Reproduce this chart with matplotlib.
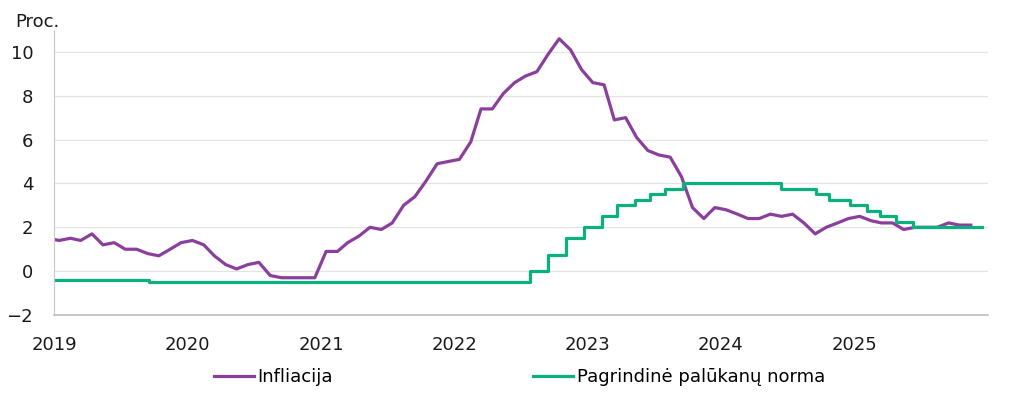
import matplotlib
matplotlib.use('Agg')
import matplotlib.pyplot as plt
import pandas as pd

# monthly HICP inflation, Dec 2018 .. Nov 2025 (plotted at mid-month)
infl_start = '2018-12'
inflation = [
    1.5,
    1.4, 1.5, 1.4, 1.7, 1.2, 1.3, 1.0, 1.0, 0.8, 0.7, 1.0, 1.3,
    1.4, 1.2, 0.7, 0.3, 0.1, 0.3, 0.4, -0.2, -0.3, -0.3, -0.3, -0.3,
    0.9, 0.9, 1.3, 1.6, 2.0, 1.9, 2.2, 3.0, 3.4, 4.1, 4.9, 5.0,
    5.1, 5.9, 7.4, 7.4, 8.1, 8.6, 8.9, 9.1, 9.9, 10.6, 10.1, 9.2,
    8.6, 8.5, 6.9, 7.0, 6.1, 5.5, 5.3, 5.2, 4.3, 2.9, 2.4, 2.9,
    2.8, 2.6, 2.4, 2.4, 2.6, 2.5, 2.6, 2.2, 1.7, 2.0, 2.2, 2.4,
    2.5, 2.3, 2.2, 2.2, 1.9, 2.0, 2.0, 2.0, 2.2, 2.1, 2.1,
]

# policy rate change dates and new levels
rate_dates = ['2019-01-01', '2019-09-18', '2022-07-27', '2022-09-14', '2022-11-02',
              '2022-12-21', '2023-02-08', '2023-03-22', '2023-05-10', '2023-06-21',
              '2023-08-02', '2023-09-20', '2024-06-12', '2024-09-18', '2024-10-23',
              '2024-12-18', '2025-02-05', '2025-03-12', '2025-04-23', '2025-06-11',
              '2025-12-15']
rate_values = [-0.40, -0.50, 0.00, 0.75, 1.50, 2.00, 2.50, 3.00, 3.25, 3.50,
               3.75, 4.00, 3.75, 3.50, 3.25, 3.00, 2.75, 2.50, 2.25, 2.00, 2.00]

year_ticks = ['2019', '2020', '2021', '2022', '2023', '2024', '2025']
y_ticks = [-2, 0, 2, 4, 6, 8, 10]

purple = '#8B3F9D'
green = '#0BB07F'
plt.rcParams['font.family'] = ['DejaVu Sans']

infl_x = pd.period_range(infl_start, periods=len(inflation), freq='M').to_timestamp() + pd.Timedelta(days=14)
rate_x = pd.to_datetime(rate_dates)

fig = plt.figure(figsize=(10.24, 3.94), dpi=100, facecolor='white')
ax = fig.add_axes([54/1024, 1-315/394, (988-54)/1024, (315-30)/394])

ax.plot(infl_x, inflation, color=purple, lw=2.3, label='Infliacija')
ax.plot(rate_x, rate_values, color=green, lw=2.3, drawstyle='steps-post',
        label='Pagrindinė palūkanų norma')

ax.set_xlim(pd.Timestamp('2019-01-01'), pd.Timestamp('2026-01-01'))
ax.set_ylim(-2, 11)
ax.set_yticks(y_ticks)
ax.set_yticklabels([str(v).replace('-', '\u2212') for v in y_ticks])
ax.set_xticks(pd.to_datetime([y + '-01-01' for y in year_ticks]))
ax.set_xticklabels(year_ticks)
ax.tick_params(axis='both', length=0, labelsize=13, colors='#1a1a1a')
ax.tick_params(axis='x', pad=15)
ax.tick_params(axis='y', pad=15)
ax.grid(axis='y', color='#E3E3E3', lw=0.9)
ax.set_axisbelow(True)
for s in ['top', 'right']:
    ax.spines[s].set_visible(False)
ax.spines['left'].set_color('#C8C8C8')
ax.spines['bottom'].set_color('#BDBDBD')
ax.spines['bottom'].set_linewidth(1.2)

fig.text(15/1024, 1-22/394, 'Proc.', fontsize=13, va='center', ha='left', color='#1a1a1a')

fig.legend(loc='center left', bbox_to_anchor=(214/1024, 1-377/394), ncol=2,
           frameon=False, fontsize=13, handlelength=2.2, handletextpad=0.2,
           columnspacing=11.1, borderpad=0, borderaxespad=0)

plt.savefig('out.png', dpi=100, facecolor='white')
plt.close()
